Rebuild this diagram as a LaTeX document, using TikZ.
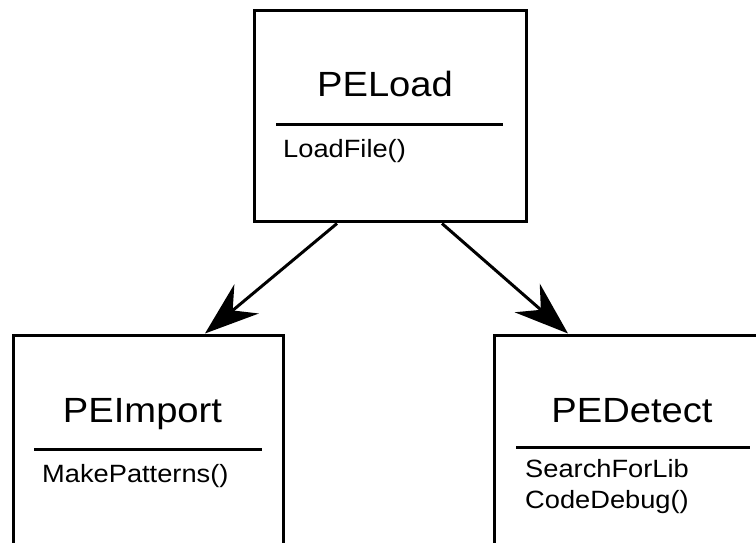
\documentclass[tikz,border=0pt]{standalone}
\usepackage{fontspec}
\setmainfont{Liberation Sans}[FakeStretch=1.09]
\usetikzlibrary{arrows.meta, positioning}

\begin{document}
\begin{tikzpicture}[
    x=1pt, y=1pt,
    box/.style={rectangle, draw, line width=3pt, minimum height=211pt, inner sep=0pt},
    title/.style={anchor=base, font=\fontsize{35}{42}\selectfont, inner sep=0pt},
    method/.style={anchor=base west, align=left, font=\fontsize{25}{31}\selectfont, inner sep=0pt},
    sep/.style={line width=3pt},
    arrow/.style={-{Stealth[length=54pt, width=38pt, inset=18pt]}, line width=3pt}
]
\clip (0,0) rectangle (756,542);

% Boxes
\node[box, minimum width=272pt] (load) at (390,425.5) {};
\node[box, minimum width=270pt] (imp) at (148,101.5) {};
\node[box, minimum width=276pt] (det) at (632,101.5) {};

% Class names
\node[title] (loadname) at (385,445) {PELoad};
\node[title] (impname) at (142.5,120) {PEImport};
\node[title] (detname) at (632,120) {PEDetect};

% Separators
\draw[sep] (276,417) -- (503,417);
\draw[sep] (34,93) -- (262,93);
\draw[sep] (516,95) -- (750,95);

% Methods
\node[method] (loadfn) at (283,384) {LoadFile()};
\node[method] (impfn) at (42,60) {MakePatterns()};
\node[method] (detfn) at (525,34) {SearchForLib\\CodeDebug()};

% Arrows
\draw[arrow] ([xshift=-53pt]load.south) -- ([xshift=57pt]imp.north);
\draw[arrow] ([xshift=52pt]load.south) -- ([xshift=-64pt]det.north);

\end{tikzpicture}
\end{document}
